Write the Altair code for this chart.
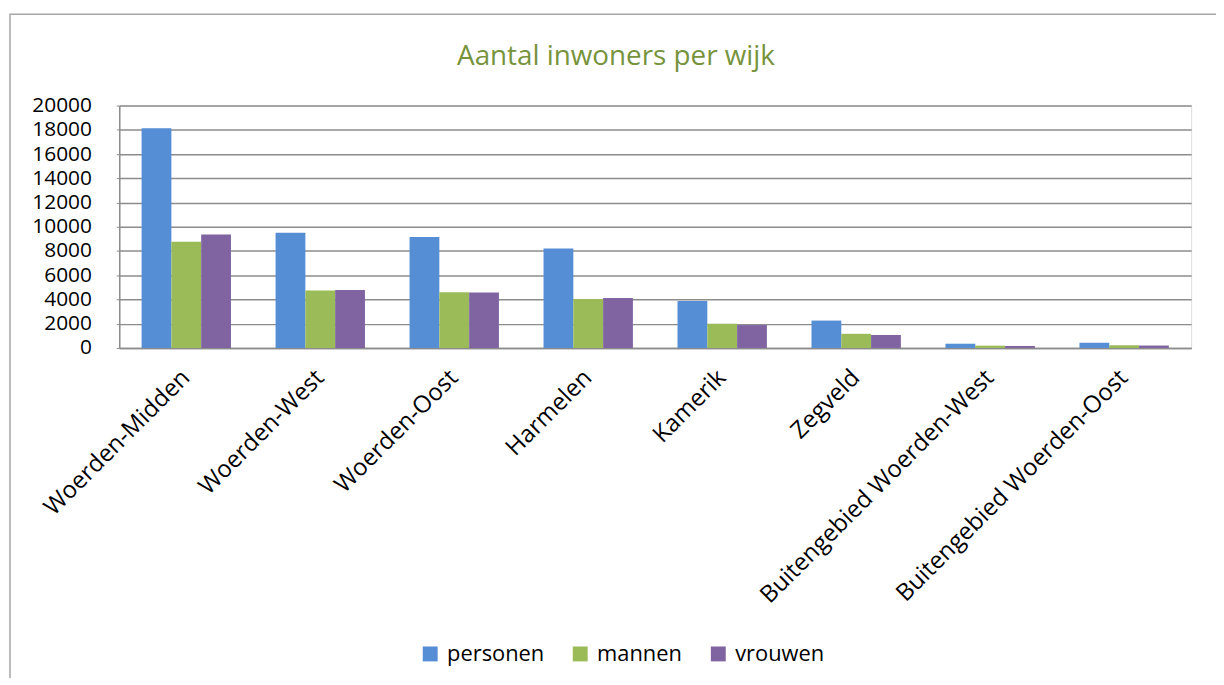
import altair as alt
import pandas as pd

wijken = ["Woerden-Midden", "Woerden-West", "Woerden-Oost", "Harmelen", "Kamerik",
          "Zegveld", "Buitengebied Woerden-West", "Buitengebied Woerden-Oost"]
series = ["personen", "mannen", "vrouwen"]
personen = [18130, 9500, 9150, 8200, 3880, 2260, 350, 430]
mannen = [8770, 4750, 4590, 4040, 2000, 1170, 190, 230]
vrouwen = [9370, 4780, 4580, 4120, 1890, 1070, 165, 200]
colors = ["#558ED5", "#9BBB59", "#8064A2"]
title_text = ["Aantal inwoners per wijk"]

rows = []
for i, w in enumerate(wijken):
    for s, vals in zip(series, [personen, mannen, vrouwen]):
        rows.append({"wijk": w, "serie": s, "waarde": vals[i]})
df = pd.DataFrame(rows)

FONT = "Open Sans"

bars = alt.Chart(df).mark_bar(size=30).encode(
    x=alt.X("wijk:N", sort=wijken, title=None,
            scale=alt.Scale(paddingInner=0.333, paddingOuter=0.1667),
            axis=alt.Axis(labelAngle=-45, labelAlign="right", labelBaseline="middle",
                          labelFontSize=24, labelFont=FONT, labelColor="#000000",
                          labelPadding=26, ticks=False, domainColor="#8C8C8C",
                          domainWidth=1.5, labelLimit=500)),
    xOffset=alt.XOffset("serie:N", sort=series, scale=alt.Scale(paddingInner=0, paddingOuter=0)),
    y=alt.Y("waarde:Q", title=None,
            scale=alt.Scale(domain=[0, 20000], nice=False),
            axis=alt.Axis(values=list(range(0, 20001, 2000)), format="d",
                          labelFontSize=21, labelFont=FONT,
                          labelColor="#000000", tickSize=3, tickColor="#8C8C8C",
                          labelPadding=25, grid=True, gridColor="#8C8C8C", gridWidth=1.5,
                          domainColor="#8C8C8C", domainWidth=1.5)),
    color=alt.Color("serie:N", sort=series, title=None,
                    scale=alt.Scale(domain=series, range=colors),
                    legend=alt.Legend(orient="none", direction="horizontal",
                                      legendX=302, legendY=541,
                                      symbolType="square", symbolSize=225,
                                      symbolStrokeWidth=0, labelFontSize=22, labelFont=FONT,
                                      labelColor="#000000", columnPadding=25, labelOffset=6)),
)

frame = alt.Chart(pd.DataFrame({"a": [0]})).mark_rect(
    fill=None, stroke="#A6A6A6", strokeWidth=1.5, clip=False
).encode(x=alt.value(-110), x2=alt.value(1120), y=alt.value(-92), y2=alt.value(600))

title = alt.Chart(pd.DataFrame({"t": title_text})).mark_text(
    font=FONT, fontSize=28, color="#77933C", align="center", baseline="alphabetic", clip=False
).encode(text="t:N", x=alt.value(500), y=alt.value(-41))

chart = alt.layer(frame, bars, title).properties(
    width=1079, height=244,
    padding={"left": 112, "top": 96, "right": 25, "bottom": 330},
    autosize=alt.AutoSizeParams(type="none"),
).configure_view(stroke=None).configure(background="#FFFFFF")

chart.save("out.html", embed_options={"renderer": "svg", "actions": False})
